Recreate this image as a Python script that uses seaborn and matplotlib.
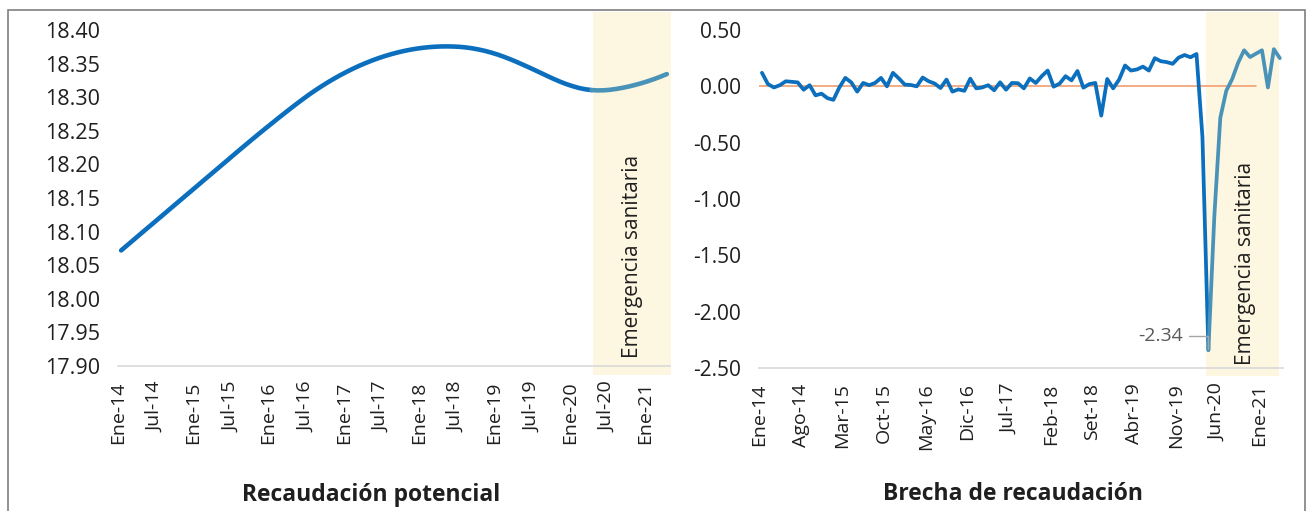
import numpy as np
import pandas as pd
import matplotlib
matplotlib.use("Agg")
import matplotlib.pyplot as plt
from matplotlib.patches import Rectangle
import seaborn as sns

# ---------------- data ----------------
potencial = [
    18.0720, 18.0799, 18.0878, 18.0958, 18.1037, 18.1116,
    18.1195, 18.1274, 18.1354, 18.1433, 18.1512, 18.1591,
    18.1670, 18.1750, 18.1829, 18.1908, 18.1987, 18.2066,
    18.2146, 18.2225, 18.2303, 18.2381, 18.2458, 18.2534,
    18.2609, 18.2684, 18.2758, 18.2831, 18.2903, 18.2973,
    18.3041, 18.3105, 18.3166, 18.3224, 18.3279, 18.3331,
    18.3380, 18.3426, 18.3469, 18.3509, 18.3546, 18.3580,
    18.3611, 18.3639, 18.3664, 18.3686, 18.3705, 18.3721,
    18.3734, 18.3744, 18.3751, 18.3755, 18.3756, 18.3754,
    18.3749, 18.3740, 18.3727, 18.3710, 18.3689, 18.3664,
    18.3635, 18.3602, 18.3566, 18.3527, 18.3486, 18.3444,
    18.3401, 18.3357, 18.3313, 18.3270, 18.3230, 18.3194,
    18.3163, 18.3137, 18.3118, 18.3106, 18.3101, 18.3103,
    18.3111, 18.3124, 18.3141, 18.3161, 18.3184, 18.3210,
    18.3239, 18.3271, 18.3306, 18.3344,
]

brecha = [
    0.12, 0.02, -0.01, 0.01, 0.045, 0.04, 0.035, -0.03, 0.01, -0.08,
    -0.065, -0.105, -0.12, -0.01, 0.075, 0.035, -0.047, 0.03, 0.01, 0.03,
    0.075, 0.0, 0.12, 0.07, 0.015, 0.012, 0.0, 0.078, 0.045, 0.025,
    -0.015, 0.06, -0.047, -0.027, -0.04, 0.068, -0.018, -0.01, 0.01, -0.035,
    0.036, -0.03, 0.03, 0.028, -0.018, 0.07, 0.03, 0.09, 0.14, -0.003,
    0.024, 0.09, 0.053, 0.136, -0.012, 0.02, 0.03, -0.26, 0.065, -0.018,
    0.06, 0.185, 0.14, 0.15, 0.175, 0.14, 0.25, 0.223, 0.215, 0.20,
    0.255, 0.278, 0.258, 0.287, -0.45, -2.34, -1.15, -0.28, -0.04, 0.065,
    0.21, 0.32, 0.26, 0.29, 0.32, -0.01, 0.33, 0.25,
]

left_ticklabels = ["Ene-14", "Jul-14", "Ene-15", "Jul-15", "Ene-16", "Jul-16",
                   "Ene-17", "Jul-17", "Ene-18", "Jul-18", "Ene-19", "Jul-19",
                   "Ene-20", "Jul-20", "Ene-21"]
right_ticklabels = ["Ene-14", "Ago-14", "Mar-15", "Oct-15", "May-16", "Dic-16",
                    "Jul-17", "Feb-18", "Set-18", "Abr-19", "Nov-19", "Jun-20",
                    "Ene-21"]
left_yticks = [17.90, 17.95, 18.00, 18.05, 18.10, 18.15, 18.20, 18.25, 18.30, 18.35, 18.40]
right_yticks = [-2.50, -2.00, -1.50, -1.00, -0.50, 0.00, 0.50]

emergency_start = 75          # Abr-20
zero_line_end = 83            # Dic-20
shade_label = "Emergencia sanitaria"
left_title = "Recaudación potencial"
right_title = "Brecha de recaudación"

# ---------------- style ----------------
sns.set_style("white")
plt.rcParams["font.family"] = ["Open Sans", "DejaVu Sans"]

DARK = "#0B6FBD"
LIGHT = "#4A93B8"
SHADE = "#FDF6E1"
AXIS = "#D9D9D9"
TXT = "#1F1F1F"

W, H = 1310, 511
fig = plt.figure(figsize=(W / 100, H / 100), dpi=100)


def frac(x0, y_top, x1, y_bot):
    return [x0 / W, 1 - y_bot / H, (x1 - x0) / W, (y_bot - y_top) / H]


axL = fig.add_axes(frac(118, 30, 670, 366))
axR = fig.add_axes(frac(759, 30, 1282.8, 368))

df = pd.DataFrame({"idx": np.arange(len(potencial)),
                   "potencial": potencial, "brecha": brecha})
pre = df[df["idx"] <= emergency_start]
post = df[df["idx"] >= emergency_start]
n = len(df)

# ---------- left ----------
axL.set_xlim(-0.5, n - 0.5)
axL.set_ylim(17.90, 18.40)
axL.axvspan(emergency_start + 0.2, n - 0.4, ymin=-0.027, ymax=1.054,
            color=SHADE, lw=0, clip_on=False, zorder=0)
sns.lineplot(data=pre, x="idx", y="potencial", ax=axL, color=DARK, lw=3.3,
             solid_capstyle="round", zorder=3)
sns.lineplot(data=post, x="idx", y="potencial", ax=axL, color=LIGHT, lw=3.3,
             solid_capstyle="round", zorder=3)
axL.set_yticks(left_yticks)
axL.set_yticklabels([f"{v:.2f}" for v in left_yticks], fontsize=15.5, color=TXT)
axL.set_xticks(np.arange(0, n, 6) - 0.5)
axL.set_xticklabels(left_ticklabels, rotation=90, fontsize=14, color=TXT)
axL.text(81.6, 17.912, shade_label, rotation=90, ha="center", va="bottom",
         fontsize=15, color=TXT, zorder=4)

# ---------- right ----------
axR.set_xlim(-0.5, n - 0.5)
axR.set_ylim(-2.5, 0.5)
axR.axvspan(emergency_start - 0.45, n - 1.1, ymin=-0.024, ymax=1.054,
            color=SHADE, lw=0, clip_on=False, zorder=0)
axR.axhline(0, xmin=0, xmax=(zero_line_end + 0.5) / n, color="#F0A070", lw=1.2, zorder=2)
sns.lineplot(data=pre, x="idx", y="brecha", ax=axR, color=DARK, lw=2.7, zorder=3)
sns.lineplot(data=post, x="idx", y="brecha", ax=axR, color=LIGHT, lw=2.7, zorder=3)
axR.set_yticks(right_yticks)
axR.set_yticklabels([f"{v:.2f}" for v in right_yticks], fontsize=15, color=TXT)
axR.set_xticks(np.arange(0, n, 7) - 0.5)
axR.set_xticklabels(right_ticklabels, rotation=90, fontsize=14, color=TXT)
axR.text(81.2, -2.47, shade_label, rotation=90, ha="center", va="bottom",
         fontsize=15, color=TXT, zorder=4)
min_i = int(np.argmin(brecha))
axR.annotate(f"{brecha[min_i]:.2f}", xy=(min_i, brecha[min_i]),
             xytext=(-18, 10), textcoords="offset points", ha="right", va="center",
             fontsize=14, color="#595959",
             arrowprops=dict(arrowstyle="-", color="#A6A6A6", lw=1,
                             shrinkA=2, shrinkB=1,
                             connectionstyle="angle,angleA=0,angleB=90,rad=0"))

for ax in (axL, axR):
    ax.set_xlabel("")
    ax.set_ylabel("")
    for s in ("top", "right", "left"):
        ax.spines[s].set_visible(False)
    ax.spines["bottom"].set_color(AXIS)
    ax.spines["bottom"].set_linewidth(1.2)
    ax.tick_params(axis="y", length=0, pad=13)
    ax.tick_params(axis="x", length=8, width=1.2, color=AXIS, pad=3)
    ax.grid(False)
    ax.set_facecolor("none")

fig.text(371 / W, 1 - 495 / H, left_title, ha="center", va="center",
         fontsize=16.5, fontweight="bold", color=TXT)
fig.text(1013 / W, 1 - 494 / H, right_title, ha="center", va="center",
         fontsize=16.5, fontweight="bold", color=TXT)

fig.patches.append(Rectangle((8 / W, -0.02), (1305 - 8) / W, 1 - 10 / H + 0.02,
                             transform=fig.transFigure, fill=False,
                             edgecolor="#7F7F7F", lw=1.2, zorder=-1))

fig.savefig("out.png", dpi=100)
